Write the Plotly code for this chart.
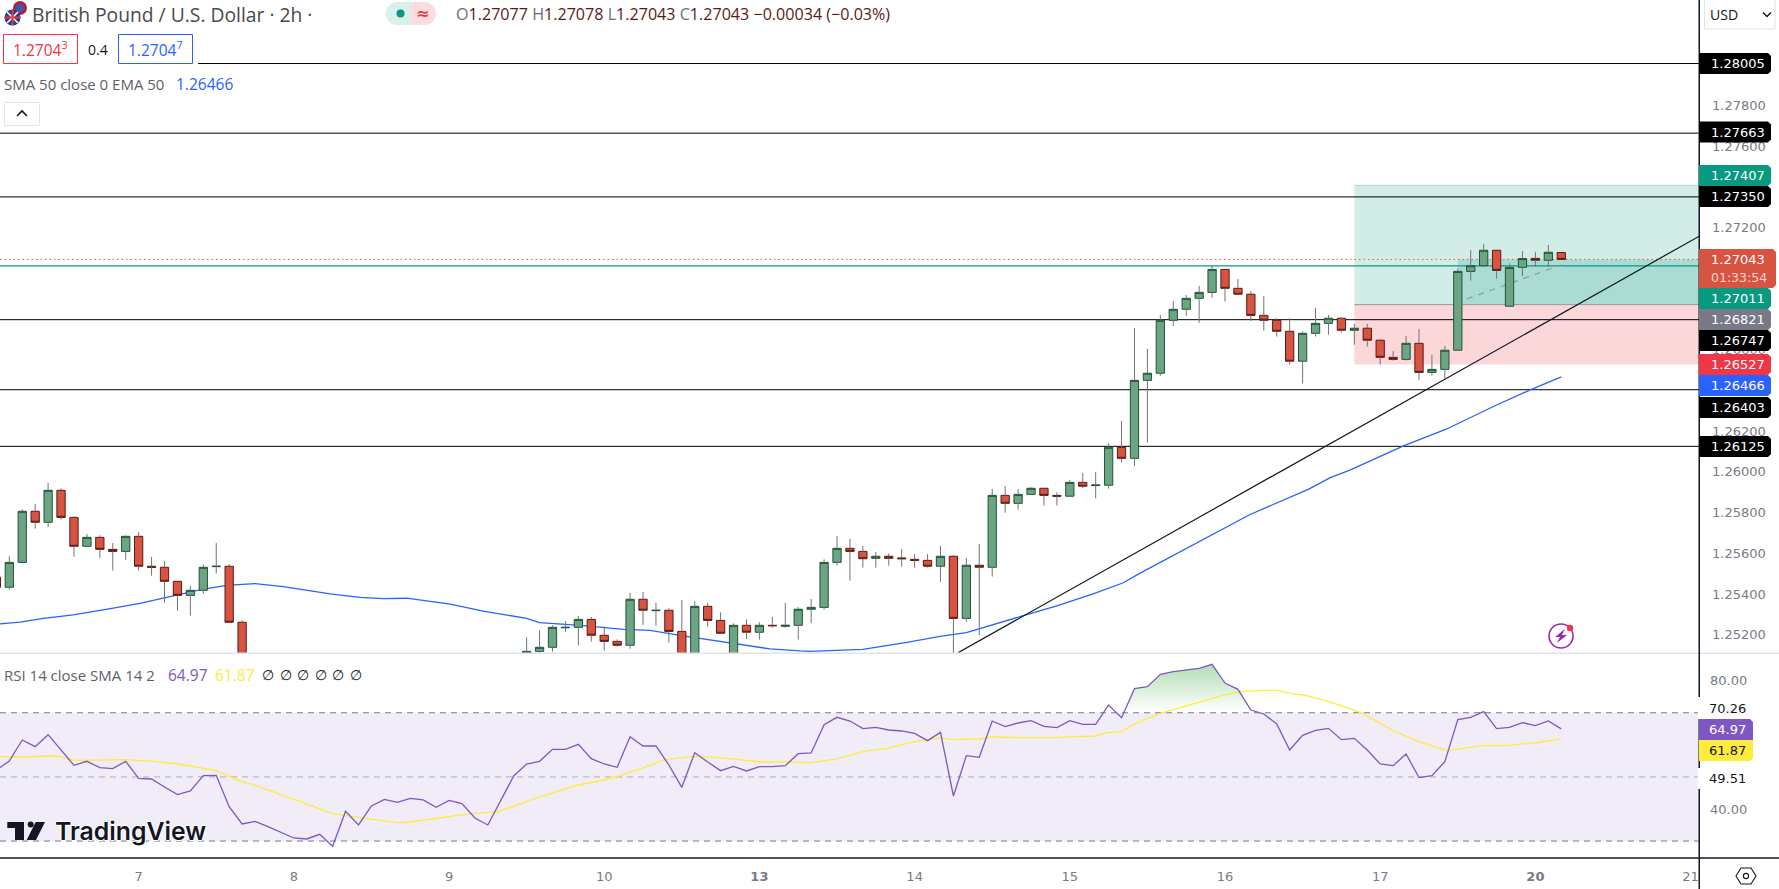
import plotly.graph_objects as go

W, H = 1779, 889

# ---------- data ----------
bar_idx = list(range(-1, 121))

opens = [1.25482,1.25433,1.25555,1.25806,1.25752,1.25909,1.25776,1.25634,1.25678,1.25619,1.25609,1.25683,1.25536,1.25531,1.25462,1.25393,1.25418,1.25534,1.25536,1.25261,
1.25060,1.25020,1.24995,1.24950,1.24915,1.24940,1.24870,1.24960,1.24920,1.24990,1.25015,1.25000,1.25025,1.25010,1.24975,1.25005,1.24990,1.24935,1.24900,1.24985,1.25060,
1.25095,1.25118,1.25138,1.25234,1.25236,1.25275,1.25197,1.25167,1.25148,1.25374,1.25318,1.25320,1.25216,1.25100,1.25339,1.25270,1.25100,1.25246,1.25212,1.25246,1.25241,
1.25246,1.25325,1.25334,1.25555,1.25624,1.25609,1.25575,1.25585,1.25577,1.25570,1.25565,1.25536,1.25585,1.25280,1.25541,1.25531,1.25884,1.25845,1.25889,1.25919,1.25884,
1.25880,1.25948,1.25932,1.25934,1.26120,1.26066,1.26449,1.26484,1.26744,1.26798,1.26852,1.26881,1.26994,1.26901,1.26872,1.26768,1.26744,1.26690,1.26543,1.26680,1.26729,
1.26754,1.26695,1.26705,1.26646,1.26562,1.26552,1.26631,1.26488,1.26503,1.26597,1.26984,1.27012,1.27088,1.26813,1.27004,1.27048,1.27039,1.27077]
highs = [1.25482,1.25585,1.25816,1.25842,1.25945,1.25919,1.25781,1.25695,1.25688,1.25650,1.25688,1.25704,1.25582,1.25562,1.25462,1.25439,1.25546,1.25650,1.25546,1.25271,
1.25085,1.25060,1.25030,1.24985,1.24970,1.24960,1.24975,1.24985,1.25010,1.25045,1.25035,1.25040,1.25050,1.25020,1.25025,1.25020,1.25000,1.24950,1.25000,1.25080,1.25113,
1.25187,1.25221,1.25246,1.25267,1.25292,1.25287,1.25241,1.25177,1.25405,1.25410,1.25356,1.25330,1.25370,1.25364,1.25356,1.25310,1.25256,1.25275,1.25261,1.25287,1.25356,
1.25336,1.25375,1.25570,1.25685,1.25670,1.25636,1.25606,1.25599,1.25621,1.25596,1.25596,1.25636,1.25591,1.25577,1.25645,1.25916,1.25930,1.25916,1.25924,1.25919,1.25899,
1.25960,1.25994,1.25999,1.26140,1.26250,1.26706,1.26603,1.26770,1.26839,1.26868,1.26913,1.27014,1.26994,1.26947,1.26888,1.26863,1.26754,1.26754,1.26690,1.26804,1.26770,
1.26759,1.26726,1.26726,1.26651,1.26593,1.26667,1.26701,1.26574,1.26618,1.26998,1.27089,1.27119,1.27088,1.27024,1.27084,1.27079,1.27114,1.27078]
lows = [1.25433,1.25421,1.25555,1.25721,1.25729,1.25765,1.25583,1.25634,1.25578,1.25515,1.25568,1.25515,1.25490,1.25357,1.25318,1.25294,1.25401,1.25500,1.25261,1.25030,
1.24990,1.24970,1.24920,1.24890,1.24880,1.24850,1.24850,1.24900,1.24905,1.24970,1.24980,1.24985,1.24995,1.24960,1.24960,1.24970,1.24920,1.24880,1.24890,1.24970,1.25040,
1.25060,1.25112,1.25117,1.25213,1.25146,1.25166,1.25122,1.25141,1.25131,1.25248,1.25244,1.25161,1.25080,1.25085,1.25239,1.25207,1.25085,1.25180,1.25176,1.25234,1.25234,
1.25176,1.25257,1.25323,1.25539,1.25465,1.25529,1.25529,1.25539,1.25534,1.25529,1.25529,1.25460,1.25090,1.25264,1.25197,1.25485,1.25799,1.25814,1.25889,1.25834,1.25834,
1.25880,1.25919,1.25870,1.25917,1.26045,1.26028,1.26143,1.26472,1.26716,1.26765,1.26732,1.26855,1.26836,1.26872,1.26741,1.26693,1.26664,1.26526,1.26433,1.26664,1.26674,
1.26683,1.26624,1.26615,1.26526,1.26546,1.26546,1.26452,1.26472,1.26457,1.26597,1.26939,1.27012,1.26948,1.26813,1.26962,1.27007,1.27007,1.27043]
closes = [1.25433,1.25555,1.25806,1.25752,1.25909,1.25776,1.25634,1.25678,1.25619,1.25609,1.25683,1.25536,1.25531,1.25462,1.25393,1.25418,1.25531,1.25536,1.25261,1.25060,
1.25020,1.24995,1.24950,1.24915,1.24940,1.24870,1.24960,1.24920,1.24990,1.25015,1.25000,1.25025,1.25010,1.24975,1.25005,1.24990,1.24935,1.24900,1.24985,1.25060,1.25095,
1.25118,1.25138,1.25236,1.25236,1.25275,1.25197,1.25167,1.25148,1.25374,1.25320,1.25320,1.25216,1.25100,1.25339,1.25270,1.25207,1.25246,1.25212,1.25246,1.25244,1.25246,
1.25325,1.25334,1.25555,1.25624,1.25609,1.25573,1.25585,1.25575,1.25573,1.25565,1.25536,1.25585,1.25280,1.25541,1.25531,1.25884,1.25845,1.25889,1.25919,1.25884,1.25880,
1.25948,1.25929,1.25935,1.26120,1.26066,1.26449,1.26484,1.26744,1.26798,1.26852,1.26881,1.26994,1.26901,1.26872,1.26768,1.26744,1.26690,1.26543,1.26680,1.26729,1.26754,
1.26695,1.26705,1.26646,1.26562,1.26552,1.26631,1.26488,1.26503,1.26597,1.26984,1.27012,1.27088,1.26989,1.27004,1.27047,1.27039,1.27078,1.27043]

ema_idx = [-0.72,0.83,2.63,4.95,8.04,10.1,12.68,15,16.81,19,21.19,24.8,27.12,28.9,30.73,34.08,36.65,40,41,44.38,47.47,49.54,52.1,56,58.82,61.14,61.9,66,68.87,
           69.4,71.96,74,78.4,81,83.8,86.14,87.4,90.5,95.9,100.44,102.1,103.7,107.8,111.1,115,117.6,120]
ema_val = [1.25253,1.25262,1.25280,1.25297,1.25330,1.25354,1.25390,1.25424,1.25442,1.25451,1.25436,1.25400,1.25383,1.25377,1.25379,1.25350,1.25316,1.25280,1.25259,1.25244,1.25226,1.25221,1.25194,1.25156,1.25130,1.25120,1.25118,1.25128,1.25154,
           1.25162,1.25192,1.25210,1.25293,1.25341,1.25400,1.25455,1.25501,1.25607,1.25789,1.25914,1.25970,1.26009,1.26127,1.26209,1.26328,1.26402,1.26466]

trend_idx = [73.38, 130.67]
trend_val = [1.25112, 1.27157]

rsi_val = [52.16,54.96,61.51,59.43,63.17,58.39,53.61,54.86,52.89,52.57,54.86,49.56,49.35,46.86,44.47,45.61,50.39,50.50,40.73,35.32,36.15,34.49,32.73,30.96,30.65,32.10,28.36,39.27,35.01,40.94,43.01,42.08,43.33,42.81,40.52,42.70,41.66,37.19,35.01,42.81,50.29,54.03,54.86,58.60,58.60,60.16,55.69,54.03,52.99,62.55,59.64,59.64,53.72,46.76,57.56,54.65,51.95,53.30,51.85,53.20,53.20,53.51,57.25,57.46,66.29,68.58,67.43,65.05,65.46,64.63,64.32,63.59,61.30,63.90,44.05,56.63,56.11,67.43,65.67,66.81,67.54,65.77,65.36,67.54,66.40,66.40,72.42,68.47,77.52,78.14,81.98,82.82,83.44,83.85,85.10,79.28,77.31,70.86,69.62,66.50,58.39,62.97,64.53,65.15,61.62,62.03,58.39,54.03,53.51,57.15,49.77,50.39,54.76,67.85,68.58,70.35,65.05,65.46,66.92,65.98,67.43,64.97]

sma_idx = [-0.72,1.06,3.13,3.87,5.05,7.86,9.04,11.12,13.04,16,17.92,19.1,22.06,22.95,25.02,27.68,30.05,30.94,33.01,35.67,37.74,40.7,43.96,45.67,47.15,48.92,50.7,52.92,54.99,58.1,59.87,61.94,64.01,66.08,67.86,69.93,72,73.04,74.96,76.14,78.21,81.17,83.98,84.87,85.91,87.09,89,92.07,93.78,95.21,96.78,98.07,99.07,100.07,101.78,103.49,104.63,106.92,108.92,110.92,111.92,113.77,115.77,117.91,120]
sma_val = [56.32,56.21,56.52,56.42,55.17,55.28,55.38,54.86,54.03,51.95,48.63,47.27,42.91,41.45,38.55,36.99,35.74,35.95,36.99,38.55,39.07,43.33,47.48,48.73,50.29,52.68,55.38,56.42,56.00,54.65,54.65,54.44,55.59,57.98,58.91,60.89,62.14,61.62,61.82,62.45,62.24,62.34,62.76,63.80,64.01,66.71,69.83,73.46,75.33,76.58,77.00,77.00,75.96,75.54,73.77,71.49,69.83,64.63,61.10,58.50,58.60,59.74,59.85,60.58,61.87]

hlines = [1.28005, 1.27663, 1.27350, 1.26747, 1.26403, 1.26125]
last_price = 1.27043
teal_line = 1.27011
tp_price, entry_price, sl_price = 1.27407, 1.26821, 1.26527
box_start = 104
fill_start_idx, fill_end_idx = 112, 120
dash_idx = [112.7, 120]
dash_val = [1.26849, 1.27016]

price_ticks = [1.25200,1.25400,1.25600,1.25800,1.26000,1.26200,1.26600,1.27200,1.27600,1.27800]
rsi_ticks = [40, 80]
rsi_levels = [70, 50, 30]
day_idx = [10,22,34,46,58,70,82,94,106,118,130]
day_txt = ['7','8','9','10','<b>13</b>','14','15','16','17','<b>20</b>','21']

x_range = [-0.72, 130.65]
main_range = [1.25110, 1.28317]
rsi_range = [24.72, 88.32]

# ---------- helpers ----------
X = lambda x: x / W
Y = lambda y: 1 - y / H
GREY = '#787B86'
AXF = 'DejaVu Sans'
HF = 'Open Sans'

shapes, ann = [], []

def rect(x0, y0, x1, y1, fill, line=None, lw=1, layer='above'):
    shapes.append(dict(type='rect', xref='paper', yref='paper', x0=X(x0), y0=Y(y0), x1=X(x1), y1=Y(y1),
                       fillcolor=fill, line=dict(color=line or fill, width=lw if line else 0), layer=layer))

def circle(cx, cy, r, fill, line=None, lw=1):
    shapes.append(dict(type='circle', xref='paper', yref='paper', x0=X(cx-r), y0=Y(cy-r), x1=X(cx+r), y1=Y(cy+r),
                       fillcolor=fill, line=dict(color=line or fill, width=lw if line else 0), layer='above'))

def path(pts, fill=None, line=None, lw=1, close=True):
    d = 'M' + ' L'.join(f'{X(a):.5f},{Y(b):.5f}' for a, b in pts) + (' Z' if close else '')
    shapes.append(dict(type='path', xref='paper', yref='paper', path=d, fillcolor=fill or 'rgba(0,0,0,0)',
                       line=dict(color=line or 'rgba(0,0,0,0)', width=lw), layer='above'))

def txt(x, y, s, color='#131722', size=14, anchor='left', family=HF, **fontkw):
    ann.append(dict(xref='paper', yref='paper', x=X(x), y=Y(y), text=s, showarrow=False, xanchor=anchor, yanchor='middle',
                    font=dict(color=color, size=size, family=family, **fontkw), borderpad=0, borderwidth=0))

def tag(y0, y1, s, bg, fg='#FFFFFF', x1=1771, r=3):
    xs = x1
    pts = [(1699, y0), (xs-r, y0), (xs, y0+r), (xs, y1-r), (xs-r, y1), (1699, y1)]
    path(pts, fill=bg)
    txt(1711, (y0+y1)/2, s, fg, 13, family=AXF)

# ---------- traces ----------
fig = go.Figure()
fig.add_trace(go.Scatter(x=ema_idx, y=ema_val, mode='lines', line=dict(color='#2962FF', width=1.3), xaxis='x', yaxis='y', hoverinfo='skip'))
fig.add_trace(go.Scatter(x=trend_idx, y=trend_val, mode='lines', line=dict(color='#131722', width=1.2), xaxis='x', yaxis='y', hoverinfo='skip'))
fig.add_trace(go.Scatter(x=dash_idx, y=dash_val, mode='lines', line=dict(color='#9598A1', width=1.2, dash='6px,6px'), xaxis='x', yaxis='y', hoverinfo='skip'))

fig.add_trace(go.Candlestick(x=bar_idx, open=opens, close=closes,
                             high=[max(o, c) for o, c in zip(opens, closes)],
                             low=[min(o, c) for o, c in zip(opens, closes)],
                             increasing=dict(fillcolor='#6BA583', line=dict(color='#225437', width=1)),
                             decreasing=dict(fillcolor='#D75442', line=dict(color='#5B1A13', width=1)),
                             whiskerwidth=0, xaxis='x3', yaxis='y3', hoverinfo='skip'))
wx, wy = [], []
for i, o, h, l, c in zip(bar_idx, opens, highs, lows, closes):
    wx += [i, i, None, i, i, None]
    wy += [max(o, c), h, None, l, min(o, c), None]
fig.add_trace(go.Scatter(x=wx, y=wy, mode='lines', line=dict(color='#737375', width=1), xaxis='x3', yaxis='y3', hoverinfo='skip'))

ob = [(i, v) for i, v in zip(bar_idx, rsi_val) if 87 <= i <= 96]
fx = [86.17] + [p[0] for p in ob] + [96.69]
fy = [70] + [p[1] for p in ob] + [70]
fig.add_trace(go.Scatter(x=fx, y=fy, mode='lines', fill='toself', line=dict(width=0, color='rgba(0,0,0,0)'),
                         fillgradient=dict(type='vertical', colorscale=[[0, 'rgba(76,175,80,0.0)'], [1, 'rgba(76,175,80,0.42)']]),
                         xaxis='x2', yaxis='y2', hoverinfo='skip'))
fig.add_trace(go.Scatter(x=sma_idx, y=sma_val, mode='lines', line=dict(color='#FFEB3B', width=1.3), xaxis='x2', yaxis='y2', hoverinfo='skip'))
fig.add_trace(go.Scatter(x=bar_idx, y=rsi_val, mode='lines', line=dict(color='#7E57C2', width=1.3), xaxis='x2', yaxis='y2', hoverinfo='skip'))

# ---------- data-anchored shapes (beneath the traces) ----------
def dbox(x0, x1, y0, y1, fill):
    shapes.append(dict(type='rect', xref='x', yref='y', x0=x0, x1=x1, y0=y0, y1=y1, fillcolor=fill, line=dict(width=0), layer='below'))
def dline(y, color, width=1, dash='solid', xref='x', yref='y'):
    shapes.append(dict(type='line', xref=xref, yref=yref, x0=x_range[0], x1=x_range[1], y0=y, y1=y, line=dict(color=color, width=width, dash=dash), layer='below'))

dbox(box_start, x_range[1], entry_price, tp_price, 'rgba(8,153,129,0.18)')
dbox(box_start, x_range[1], sl_price, entry_price, 'rgba(242,54,69,0.2)')
dbox(fill_start_idx, x_range[1], entry_price, last_price, 'rgba(8,153,129,0.2)')
shapes.append(dict(type='line', xref='x', yref='y', x0=box_start, x1=x_range[1], y0=tp_price, y1=tp_price, line=dict(color='rgba(8,153,129,0.3)', width=1), layer='below'))
shapes.append(dict(type='line', xref='x', yref='y', x0=box_start, x1=x_range[1], y0=entry_price, y1=entry_price, line=dict(color='#9598A1', width=1), layer='below'))
for lv in hlines:
    dline(lv, '#000000', 1)
dline(teal_line, '#089981', 1.2)
dline(last_price, '#E0584A', 1, '1.5px,3px')

shapes.append(dict(type='rect', xref='x2', yref='y2', x0=x_range[0], x1=x_range[1], y0=rsi_levels[2], y1=rsi_levels[0], fillcolor='rgba(126,87,194,0.115)', line=dict(width=0), layer='below'))
for lv, col in zip(rsi_levels, [GREY, 'rgba(120,123,134,0.55)', GREY]):
    dline(lv, col, 1, '6px,5px', 'x2', 'y2')

# ---------- chrome ----------
rect(0, 652.5, 1699, 654, '#E0E3EB')
rect(1699, 652.5, 1779, 654, '#E0E3EB')
rect(0, 857.3, 1779, 858.8, '#131722')
rect(1698.5, 0, 1700, 889, '#131722')

# header
circle(20, 8, 7, '#B22234'); circle(20, 8, 4.2, '#3C5AA8')
circle(12.5, 17.5, 8, '#27408B')
path([(7, 12), (18, 23)], line='#FFFFFF', lw=1.6, close=False); path([(18, 12), (7, 23)], line='#FFFFFF', lw=1.6, close=False)
path([(4.5, 17.5), (20.5, 17.5)], line='#E03A3E', lw=2, close=False); path([(12.5, 9.5), (12.5, 25.5)], line='#E03A3E', lw=2, close=False)
txt(32, 14.5, 'British Pound / U.S. Dollar · 2h ·', '#4A4A4A', 19.3)
circle(397.5, 13.5, 11.5, '#DAF0EA'); circle(424.5, 13.5, 11.5, '#FBDDE0')
rect(397.5, 2, 411, 25, '#DAF0EA'); rect(411, 2, 424.5, 25, '#FBDDE0')
circle(400.5, 13.5, 4, '#089981')
txt(422, 13, '<b>≈</b>', '#F23645', 16, 'center', family='DejaVu Sans')
DK = '#5B1A13'; LG = '#6A6D78'
ohlc = (f'<span style="color:{LG}">O</span>1.27077 <span style="color:{LG}">H</span>1.27078 '
        f'<span style="color:{LG}">L</span>1.27043 <span style="color:{LG}">C</span>1.27043 −0.00034 (−0.03%)')
txt(456, 14, ohlc, DK, 16.1)

rect(0, 31, 198, 66, '#FFFFFF')
rect(3.5, 34.5, 77.5, 63.5, '#FFFFFF', '#F23645', 1)
rect(118.5, 34.5, 192.5, 63.5, '#FFFFFF', '#2962FF', 1)
txt(40.5, 49, '1.2704<sup>3</sup>', '#F23645', 15.5, 'center')
txt(98, 49, '0.4', '#131722', 14, 'center')
txt(155.5, 49, '1.2704<sup>7</sup>', '#2962FF', 15.5, 'center')
txt(4, 84, 'SMA 50 close 0 EMA 50', '#5D606B', 15)
txt(176, 84, '1.26466', '#2962FF', 15.5)
rect(4.5, 102.5, 39.5, 125.5, '#FFFFFF', '#E0E3EB', 1)
path([(17, 116), (22, 111), (27, 116)], line='#131722', lw=1.6, close=False)

# USD selector
rect(1704.5, -4, 1775, 29, '#FFFFFF', '#E0E3EB', 1)
txt(1710, 14.5, 'USD', '#131722', 14)
path([(1763, 12.5), (1767, 16.5), (1771, 12.5)], line='#131722', lw=1.5, close=False)

# price tags (displaced where they would overlap, as on the chart)
tag(53, 74, '1.28005', '#000000')
tag(121.5, 142.5, '1.27663', '#000000')
tag(165, 186, '1.27407', '#089981')
tag(186, 207, '1.27350', '#000000')
path([(1699, 249), (1773, 249), (1776, 252), (1776, 285), (1773, 288), (1699, 288)], fill='#D75442')
txt(1711, 259.5, '1.27043', '#FFFFFF', 13, family=AXF)
txt(1711, 277.5, '01:33:54', '#FFD5CE', 12.5, family=AXF)
tag(288, 309, '1.27011', '#089981')
tag(309, 330, '1.26821', GREY)
tag(330, 351, '1.26747', '#000000')
tag(354, 375, '1.26527', '#F23645')
tag(375, 396, '1.26466', '#2962FF')
tag(397, 418, '1.26403', '#000000')
tag(436, 457, '1.26125', '#000000')

# RSI tags
rect(1698, 697, 1756, 719, '#FFFFFF')
txt(1709, 708, '70.26', '#131722', 13, family=AXF)
path([(1699, 719), (1750, 719), (1753, 722), (1753, 740), (1699, 740)], fill='#7E57C2')
txt(1709, 729.5, '64.97', '#FFFFFF', 13, family=AXF)
path([(1699, 740), (1753, 740), (1753, 758), (1750, 761), (1699, 761)], fill='#FFEB3B')
txt(1709, 750.5, '61.87', '#131722', 13, family=AXF)
rect(1698, 768, 1756, 789, '#FFFFFF')
txt(1709, 778, '49.51', '#131722', 13, family=AXF)

# legends
txt(4, 675, 'RSI 14 close SMA 14 2', '#5D606B', 15)
txt(168, 675, '64.97', '#7E57C2', 15.5)
txt(215, 675, '61.87', '#FFEB3B', 15.5)
for k in range(6):
    txt(268 + k * 17.5, 675, '∅', '#131722', 14, 'center', family='DejaVu Sans')

# logo
path([(7.3, 822), (24, 822), (24, 840), (15, 840), (15, 828), (7.3, 828)], fill='#131722')
circle(30.7, 824.5, 3, '#131722')
path([(35.7, 822), (45, 822), (36, 840), (26.7, 840)], fill='#131722')
txt(55, 831, 'TradingView', '#131722', 24.8, family='Inter', weight=600,
    shadow='1px 0 0 #fff, -1px 0 0 #fff, 0 1px 0 #fff, 0 -1px 0 #fff')

# lightning icon
circle(1561, 636, 12, 'rgba(0,0,0,0)', '#9C27B0', 1.6)
path([(1565, 629), (1555, 637), (1560, 637), (1557, 643), (1567, 635), (1562, 635)], fill='#9C27B0')
circle(1570, 628, 3.2, '#F23645')

# settings hexagon
path([(1736, 876), (1741, 868), (1751, 868), (1756, 876), (1751, 884), (1741, 884)], line='#131722', lw=1.1)
circle(1746, 876, 2.6, '#FFFFFF', '#131722', 1.1)

# ---------- layout ----------
main_dom = [1 - 653 / H, 1]
rsi_dom = [1 - 858 / H, 1 - 654 / H]
xdom = [0, 1699 / W]
base_x = dict(range=x_range, domain=xdom, showgrid=False, zeroline=False, fixedrange=True)
fig.update_layout(
    width=W, height=H, autosize=False, margin=dict(l=0, r=0, t=0, b=0), showlegend=False,
    paper_bgcolor='#FFFFFF', plot_bgcolor='#FFFFFF', boxgap=0.36, boxgroupgap=0,
    xaxis=dict(base_x, visible=False, anchor='y', rangeslider=dict(visible=False)),
    xaxis3=dict(base_x, visible=False, anchor='y3', overlaying='x', rangeslider=dict(visible=False)),
    xaxis2=dict(base_x, anchor='y2', tickmode='array', tickvals=day_idx, ticktext=day_txt, ticks='', showline=False,
                tickfont=dict(family=AXF, size=13, color=GREY), ticklabelstandoff=9),
    yaxis=dict(domain=main_dom, range=main_range, anchor='x', side='right', tickmode='array', tickvals=price_ticks,
               tickformat='.5f', showgrid=False, zeroline=False, showline=False, ticks='', fixedrange=True,
               tickfont=dict(family=AXF, size=13, color=GREY), ticklabelstandoff=12),
    yaxis3=dict(domain=main_dom, range=main_range, anchor='x3', overlaying='y', visible=False, fixedrange=True),
    yaxis2=dict(domain=rsi_dom, range=rsi_range, anchor='x2', side='right', tickmode='array', tickvals=rsi_ticks,
                tickformat='.2f', showgrid=False, zeroline=False, showline=False, ticks='', fixedrange=True,
                tickfont=dict(family=AXF, size=13, color=GREY), ticklabelstandoff=10),
    shapes=shapes, annotations=ann,
)

fig.write_html("out.html", config=dict(displayModeBar=False),
               post_script="document.body.style.margin='0';document.body.style.overflow='hidden';")
